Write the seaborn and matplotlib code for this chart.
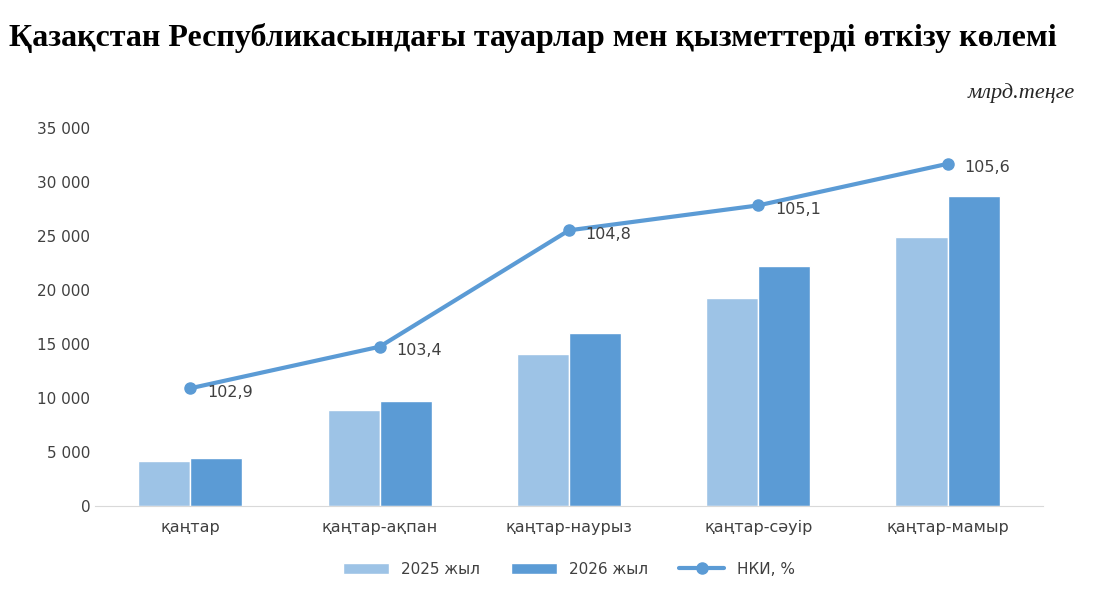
import pandas as pd
import matplotlib.pyplot as plt
import seaborn as sns

# Dados do gráfico
periodos = ['қаңтар', 'қаңтар-ақпан', 'қаңтар-наурыз', 'қаңтар-сәуір', 'қаңтар-мамыр']
valores_2025 = [4200, 8900, 14100, 19300, 24900]
valores_2026 = [4500, 9700, 16000, 22200, 28700]
nki = [102.9, 103.4, 104.8, 105.1, 105.6]

dfx = pd.DataFrame({'Период': periodos * 2,
                    'Значение': valores_2025 + valores_2026,
                    'Год': ['2025 жыл'] * 5 + ['2026 жыл'] * 5})

sns.set_style('white')
plt.rcParams['font.family'] = ['DejaVu Sans']

fig = plt.figure(figsize=(11.08, 6.1), dpi=100)
ax = fig.add_axes([0.086, 0.17, 0.855, 0.62])
sns.barplot(x='Период', y='Значение', hue='Год', data=dfx, ax=ax,
            palette=['#9dc3e6', '#5b9bd5'], width=0.55, saturation=1)
ax.set_ylim(0, 35000)
ax.set_yticks(range(0, 35001, 5000))
ax.set_yticklabels([f'{v:,}'.replace(',', ' ') for v in range(0, 35001, 5000)], fontsize=11, color='#404040')
ax.tick_params(axis='x', labelsize=11.5, colors='#404040', length=0, pad=10)
ax.tick_params(axis='y', length=0)
ax.set_xlabel('')
ax.set_ylabel('')
for s in ['top', 'right', 'left']:
    ax.spines[s].set_visible(False)
ax.spines['bottom'].set_color('#d9d9d9')

# Linha do НКИ em eixo secundário (oculto)
ax2 = ax.twinx()
ax2.plot(range(5), nki, color='#5b9bd5', lw=3, marker='o', ms=8, label='НКИ, %')
ax2.set_ylim(101.48, 106.03)
ax2.axis('off')
for i, v in enumerate(nki):
    ax2.annotate(f'{v}'.replace('.', ','), (i, v), xytext=(12, -6), textcoords='offset points',
                 fontsize=11.5, color='#404040')

h1, l1 = ax.get_legend_handles_labels()
h2, l2 = ax2.get_legend_handles_labels()
ax.legend(h1 + h2, l1 + l2, loc='upper center', bbox_to_anchor=(0.5, -0.11), ncol=3,
          frameon=False, fontsize=11, handlelength=3, labelcolor='#404040')

fig.text(0.008, 0.925, 'Қазақстан Республикасындағы тауарлар мен қызметтерді өткізу көлемі',
         fontsize=23, fontweight='bold', family='Liberation Serif', color='black')
fig.text(0.97, 0.84, 'млрд.теңге', fontsize=16, style='italic', family='Liberation Serif', ha='right')

plt.savefig('out.png')
